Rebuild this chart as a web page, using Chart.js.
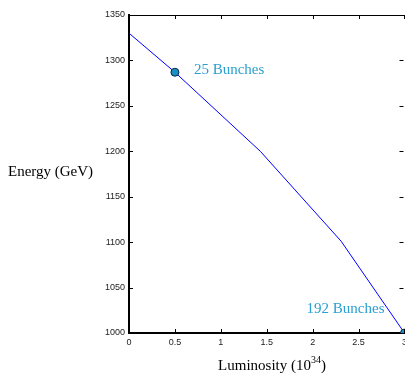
<!DOCTYPE html>
<html>
<head>
<meta charset="utf-8">
<script src="https://cdn.jsdelivr.net/npm/chart.js@4/dist/chart.umd.min.js"></script>
<style>
  html, body { margin: 0; padding: 0; background: #fff; overflow: hidden; }
  #wrap { width: 405px; height: 377px; position: relative; overflow: hidden; }
</style>
</head>
<body>
<div id="wrap"><canvas id="myChart" width="411" height="377"></canvas></div>
<script>
// luminosity (10^34) vs energy (GeV)
const luminosity = [0, 0.5, 1.43, 2.31, 3];
const energy = [1330, 1287, 1200, 1101, 1000];
// the two marked working points
const markLum = [0.5, 3];
const markEnergy = [1287, 1000];
const markNames = ['25 Bunches', '192 Bunches'];
const xTicks = [0, 0.5, 1, 1.5, 2, 2.5, 3];
const yTicks = [1000, 1050, 1100, 1150, 1200, 1250, 1300, 1350];

const lineData = luminosity.map((x, i) => ({x: x, y: energy[i]}));
const markData = markLum.map((x, i) => ({x: x, y: markEnergy[i]}));

const tickFamily = '"Liberation Sans Narrow", "Liberation Sans", Arial, sans-serif';
const serif = '"Liberation Serif", "Times New Roman", serif';

// inward tick marks on all four sides, plus the text labels
const decor = {
    id: 'decor',
    afterDraw(chart) {
        const ctx = chart.ctx;
        const a = chart.chartArea;
        const xs = chart.scales.x;
        const ys = chart.scales.y;
        ctx.save();
        ctx.strokeStyle = '#000';
        ctx.lineWidth = 1;
        ctx.beginPath();
        // top border
        ctx.moveTo(a.left, a.top + 0.5);
        ctx.lineTo(a.right, a.top + 0.5);
        xTicks.forEach(v => {
            const px = Math.round(xs.getPixelForValue(v)) + 0.5;
            ctx.moveTo(px, a.bottom); ctx.lineTo(px, a.bottom - 4);
            ctx.moveTo(px, a.top); ctx.lineTo(px, a.top + 4);
        });
        yTicks.forEach(v => {
            const py = Math.round(ys.getPixelForValue(v)) + 0.5;
            ctx.moveTo(a.left, py); ctx.lineTo(a.left + 4, py);
            ctx.moveTo(a.right - 1, py); ctx.lineTo(a.right - 5, py);
        });
        ctx.stroke();

        // point labels
        ctx.fillStyle = '#2a9fd0';
        ctx.font = '15px ' + serif;
        ctx.textBaseline = 'middle';
        ctx.textAlign = 'left';
        ctx.fillText(markNames[0], xs.getPixelForValue(markLum[0]) + 19, ys.getPixelForValue(markEnergy[0]) - 2);
        ctx.textAlign = 'right';
        ctx.fillText(markNames[1], xs.getPixelForValue(markLum[1]) - 20, ys.getPixelForValue(markEnergy[1]) - 24);

        // axis titles
        ctx.fillStyle = '#000';
        ctx.font = '15px ' + serif;
        ctx.textAlign = 'left';
        ctx.fillText('Energy (GeV)', 8, 172);
        const t1 = 'Luminosity (10';
        const w1 = ctx.measureText(t1).width;
        ctx.font = '10px ' + serif;
        const w2 = ctx.measureText('34').width;
        ctx.font = '15px ' + serif;
        const w3 = ctx.measureText(')').width;
        let x0 = 272 - (w1 + w2 + w3) / 2;
        ctx.fillText(t1, x0, 366);
        ctx.font = '10px ' + serif;
        ctx.fillText('34', x0 + w1, 360);
        ctx.font = '15px ' + serif;
        ctx.fillText(')', x0 + w1 + w2, 366);
        ctx.restore();
    }
};

const ctx = document.getElementById('myChart').getContext('2d');
new Chart(ctx, {
    type: 'scatter',
    data: {
        datasets: [
            {
                data: markData,
                showLine: false,
                pointRadius: 4,
                pointBackgroundColor: '#1b8fc2',
                pointBorderColor: '#0b2a4a',
                pointBorderWidth: 1
            },
            {
                data: lineData,
                showLine: true,
                borderColor: '#0000ff',
                borderWidth: 1,
                pointRadius: 0,
                fill: false,
                tension: 0
            }
        ]
    },
    options: {
        responsive: false,
        animation: false,
        layout: { padding: { top: 15, left: 0, right: 0, bottom: 0 } },
        plugins: { legend: { display: false }, tooltip: { enabled: false } },
        scales: {
            x: {
                type: 'linear',
                min: 0,
                max: 3,
                afterBuildTicks: s => { s.ticks = xTicks.map(v => ({value: v})); },
                afterFit: s => { s.height = 44; },
                grid: { display: false, drawTicks: false },
                border: { color: '#000', width: 2 },
                ticks: {
                    color: '#222',
                    font: { family: tickFamily, size: 9 },
                    padding: 4,
                    maxRotation: 0,
                    autoSkip: false,
                    callback: v => String(v)
                }
            },
            y: {
                type: 'linear',
                min: 1000,
                max: 1350,
                afterBuildTicks: s => { s.ticks = yTicks.map(v => ({value: v})); },
                afterFit: s => { s.width = 129; s.paddingTop = 0; s.paddingBottom = 0; },
                grid: { display: false, drawTicks: false },
                border: { color: '#000', width: 2 },
                ticks: {
                    color: '#222',
                    font: { family: tickFamily, size: 9 },
                    padding: 4,
                    callback: v => String(v)
                }
            }
        }
    },
    plugins: [decor]
});
</script>
</body>
</html>
